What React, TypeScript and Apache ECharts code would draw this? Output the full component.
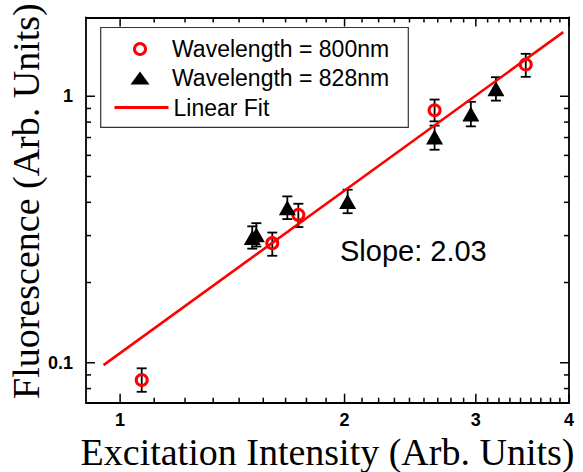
import React, { useEffect, useRef } from 'react';
import * as echarts from 'echarts';

// ---- data ----
const wl800X = [1.069, 1.6, 1.734, 2.641, 3.5];
const wl800Y = [0.0861, 0.281, 0.359, 0.886, 1.316];
const wl800Lo = [0.0778, 0.252, 0.323, 0.805, 1.183];
const wl800Hi = [0.0953, 0.308, 0.395, 0.972, 1.443];

const wl828X = [1.504, 1.523, 1.676, 2.019, 2.641, 2.954, 3.192];
const wl828Y = [0.295, 0.302, 0.382, 0.403, 0.703, 0.857, 1.066];
const wl828Lo = [0.268, 0.273, 0.346, 0.364, 0.63, 0.771, 0.963];
const wl828Hi = [0.325, 0.334, 0.421, 0.446, 0.776, 0.953, 1.179];

const fitX = [0.95, 3.93];
const fitY = [0.098, 1.74];

const xTickValues = [1, 2, 3, 4];
const xTickLabels = ['1', '2', '3', '4'];
const xMinorTicks = [
  1.111, 1.222, 1.333, 1.444, 1.556, 1.667, 1.778, 1.889,
  2.111, 2.222, 2.333, 2.444, 2.556, 2.667, 2.778, 2.889,
  3.111, 3.222, 3.333, 3.444, 3.556, 3.667, 3.778, 3.889,
];
const yTickValues = [0.1, 1];
const yTickLabels = ['0.1', '1'];
const yMinorTicks = [0.08, 0.09, 0.2, 0.3, 0.4, 0.5, 0.6, 0.7, 0.8, 0.9];

const X_MIN = 0.9;
const X_MAX = 4;
const Y_MIN = 0.0708;
const Y_MAX = 1.975;

const NAME_800 = 'Wavelength = 800nm';
const NAME_828 = 'Wavelength = 828nm';
const NAME_FIT = 'Linear Fit';

const SANS = 'Liberation Sans, Arial, sans-serif';
const SERIF = 'Liberation Serif, Times New Roman, serif';

function buildOption(): any {
  const errData: number[][] = [];
  wl800X.forEach((x, i) => errData.push([x, wl800Lo[i], wl800Hi[i]]));
  wl828X.forEach((x, i) => errData.push([x, wl828Lo[i], wl828Hi[i]]));

  const tickData: number[][] = [];
  xTickValues.forEach((v) => tickData.push([v, Y_MIN, 9, 0]));
  xMinorTicks.forEach((v) => tickData.push([v, Y_MIN, 5, 0]));
  yTickValues.forEach((v) => tickData.push([X_MIN, v, 9, 1]));
  yMinorTicks.forEach((v) => tickData.push([X_MIN, v, 5, 1]));

  const axisLine = { show: true, onZero: false, lineStyle: { color: '#000', width: 1.8 } };
  const hidden = {
    axisTick: { show: false },
    minorTick: { show: false },
    splitLine: { show: false },
    minorSplitLine: { show: false },
  };
  const legendText = { fontFamily: SANS, fontSize: 23, color: '#000' };

  return {
    animation: false,
    backgroundColor: '#fff',
    grid: { left: 86, right: 14, top: 17.5, bottom: 69.3, outerBoundsMode: 'none', containLabel: false },
    xAxis: [
      {
        type: 'log', logBase: 10, min: X_MIN, max: X_MAX, position: 'bottom',
        axisLine, ...hidden,
        axisLabel: { show: false },
        name: 'Excitation Intensity (Arb. Units)',
        nameLocation: 'middle', nameGap: 30.6, nameMoveOverlap: false,
        nameTextStyle: { fontFamily: SERIF, fontSize: 38, color: '#000' },
      },
      {
        type: 'log', logBase: 10, min: X_MIN, max: X_MAX, position: 'top',
        axisLine, ...hidden, axisLabel: { show: false },
      },
    ],
    yAxis: [
      {
        type: 'log', logBase: 10, min: Y_MIN, max: Y_MAX, position: 'left',
        axisLine, ...hidden,
        axisLabel: {
          show: true, margin: 13, fontFamily: SANS, fontSize: 18, fontWeight: 'bold', color: '#000',
          formatter: (v: number) => {
            for (let i = 0; i < yTickValues.length; i++) {
              if (Math.abs(v - yTickValues[i]) < 1e-6 * yTickValues[i] + 1e-9) return yTickLabels[i];
            }
            return '';
          },
        },
        name: 'Fluorescence (Arb. Units)',
        nameLocation: 'middle', nameGap: 41, nameMoveOverlap: false,
        nameTextStyle: { fontFamily: SERIF, fontSize: 38, color: '#000', padding: [0, 0, 0, 18] },
      },
      {
        type: 'log', logBase: 10, min: Y_MIN, max: Y_MAX, position: 'right',
        axisLine, ...hidden, axisLabel: { show: false },
      },
    ],
    legend: [
      {
        data: [{ name: NAME_800, icon: 'circle' }],
        left: 133, top: 37.5, padding: 0, itemWidth: 54, itemHeight: 11, selectedMode: false,
        itemStyle: { color: 'rgba(0,0,0,0)', borderColor: '#ff0000', borderWidth: 3 },
        textStyle: legendText,
      },
      {
        data: [{ name: NAME_828, icon: 'path://M0,13L9.5,0L19,13Z' }],
        left: 130.5, top: 66.5, padding: 0, itemWidth: 54, itemHeight: 13, selectedMode: false,
        itemStyle: { color: '#000', borderWidth: 0 },
        textStyle: legendText,
      },
      {
        data: [{ name: NAME_FIT }],
        left: 113, top: 96, padding: 0, itemWidth: 54, itemHeight: 3, selectedMode: false,
        lineStyle: { color: '#ff0000', width: 3 },
        textStyle: legendText,
      },
    ],
    graphic: [
      {
        type: 'rect', shape: { x: 100.7, y: 27.5, width: 307.6, height: 99.8 },
        style: { fill: 'none', stroke: '#333', lineWidth: 1.2 }, z: 10,
      },
      {
        type: 'text', x: 340, y: 251,
        style: { text: 'Slope: 2.03', fontFamily: SANS, fontSize: 29, fill: '#000', align: 'left', verticalAlign: 'middle' },
        z: 10,
      },
    ],
    series: [
      {
        name: 'errorbars', type: 'custom', xAxisIndex: 0, yAxisIndex: 0, silent: true, z: 2,
        encode: { x: 0, y: [1, 2] },
        data: errData,
        renderItem: (params: any, api: any) => {
          const x = api.value(0);
          const lo = api.coord([x, api.value(1)]);
          const hi = api.coord([x, api.value(2)]);
          const hw = 5;
          const st = { stroke: '#000', lineWidth: 1.8 };
          return {
            type: 'group',
            children: [
              { type: 'line', shape: { x1: lo[0], y1: lo[1], x2: hi[0], y2: hi[1] }, style: st },
              { type: 'line', shape: { x1: lo[0] - hw, y1: lo[1], x2: lo[0] + hw, y2: lo[1] }, style: st },
              { type: 'line', shape: { x1: hi[0] - hw, y1: hi[1], x2: hi[0] + hw, y2: hi[1] }, style: st },
            ],
          };
        },
      },
      {
        name: NAME_800, type: 'scatter', z: 3, symbol: 'circle', symbolSize: 11,
        itemStyle: { color: 'rgba(0,0,0,0)', borderColor: '#ff0000', borderWidth: 3, opacity: 1 },
        data: wl800X.map((x, i) => [x, wl800Y[i]]),
      },
      {
        name: NAME_828, type: 'scatter', z: 3, symbol: 'triangle', symbolSize: [17, 15],
        itemStyle: { color: '#000', opacity: 1 },
        data: wl828X.map((x, i) => [x, wl828Y[i]]),
      },
      {
        name: NAME_FIT, type: 'line', z: 4, symbol: 'none', showSymbol: false,
        lineStyle: { color: '#ff0000', width: 2.6 },
        itemStyle: { color: '#ff0000' },
        data: fitX.map((x, i) => [x, fitY[i]]),
      },
      {
        name: 'ticks', type: 'custom', silent: true, z: 5, clip: false,
        encode: { x: 0, y: 1 },
        data: tickData,
        renderItem: (params: any, api: any) => {
          const cs = params.coordSys;
          const v0 = api.value(0);
          const v1 = api.value(1);
          const len = api.value(2);
          const kind = api.value(3);
          const st = { stroke: '#000', lineWidth: 1.5 };
          if (kind === 0) {
            const px = api.coord([v0, v1])[0];
            const yb = cs.y + cs.height;
            return {
              type: 'group',
              children: [
                { type: 'line', shape: { x1: px, y1: yb, x2: px, y2: yb - len }, style: st },
                { type: 'line', shape: { x1: px, y1: cs.y, x2: px, y2: cs.y + len }, style: st },
              ],
            };
          }
          const py = api.coord([v0, v1])[1];
          const xr = cs.x + cs.width;
          return {
            type: 'group',
            children: [
              { type: 'line', shape: { x1: cs.x, y1: py, x2: cs.x + len, y2: py }, style: st },
              { type: 'line', shape: { x1: xr, y1: py, x2: xr - len, y2: py }, style: st },
            ],
          };
        },
      },
      {
        name: 'xlabels', type: 'custom', silent: true, z: 5, clip: false,
        encode: { x: 0, y: 1 },
        data: xTickValues.map((v) => [v, Y_MIN]),
        renderItem: (params: any, api: any) => {
          const p = api.coord([api.value(0), api.value(1)]);
          return {
            type: 'text', x: p[0], y: p[1] + 8.3,
            style: {
              text: xTickLabels[params.dataIndex], fontFamily: SANS, fontSize: 18, fontWeight: 'bold',
              fill: '#000', align: 'center', verticalAlign: 'top',
            },
          };
        },
      },
    ],
  };
}

export default function App() {
  const ref = useRef<HTMLDivElement>(null);
  useEffect(() => {
    if (!ref.current) return;
    const chart = echarts.init(ref.current, null, { renderer: 'svg' });
    chart.setOption(buildOption());
    return () => chart.dispose();
  }, []);
  return (
    <div
      ref={ref}
      style={{ position: 'fixed', left: 0, top: 0, width: 583, height: 472, background: '#fff' }}
    />
  );
}
